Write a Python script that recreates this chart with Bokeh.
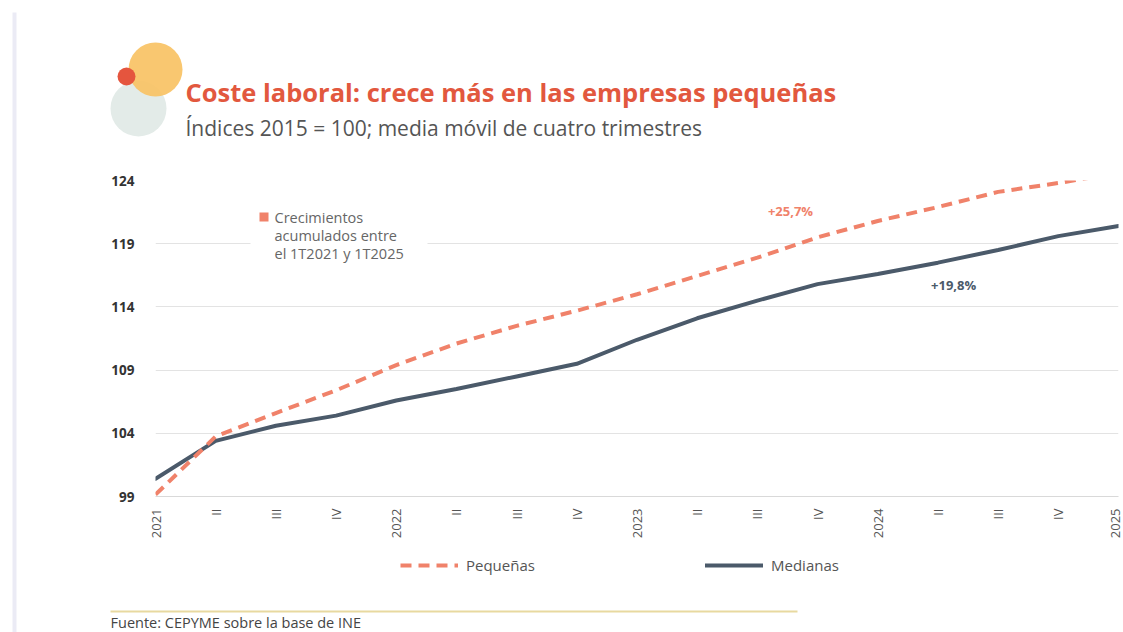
import math
from bokeh.plotting import figure
from bokeh.layouts import column, row
from bokeh.models import (FixedTicker, Label, BoxAnnotation, Legend, LegendItem, Range1d)
from bokeh.embed import file_html
from bokeh.resources import INLINE

# ---- data ----
quarters = list(range(17))
tick_labels = ["2021", "II", "III", "IV", "2022", "II", "III", "IV",
               "2023", "II", "III", "IV", "2024", "II", "III", "IV", "2025"]
pequenas = [99.15, 103.75, 105.6, 107.4, 109.4, 111.1, 112.5, 113.7,
            115.0, 116.45, 117.9, 119.5, 120.8, 121.9, 123.1, 123.8, 124.6]
medianas = [100.4, 103.4, 104.6, 105.4, 106.6, 107.5, 108.5, 109.5,
            111.4, 113.1, 114.5, 115.8, 116.6, 117.5, 118.5, 119.6, 120.4]
y_ticks = [99, 104, 109, 114, 119, 124]
series_names = ["Pequeñas", "Medianas"]
growth_labels = ["+25,7%", "+19,8%"]

ORANGE = "#f0826a"
SLATE = "#4b5a6a"
FONT = "Open Sans"
STRIP_W = 20
W = 1123 - STRIP_W


def blank(width, height):
    f = figure(width=width, height=height, x_range=Range1d(0, width), y_range=Range1d(height, 0),
               x_axis_type=None, y_axis_type=None, output_backend="svg", toolbar_location=None,
               min_border=0, frame_align=False)
    f.outline_line_color = None
    f.background_fill_color = "white"
    f.border_fill_color = "white"
    return f


# ---- left page strip ----
strip = blank(STRIP_W, 632)
strip.add_layout(BoxAnnotation(left=12, right=16, top=12, bottom=632,
                               fill_color="#ebebf5", fill_alpha=1, line_alpha=0))

# ---- header ----
head = blank(W, 160)
head.circle(x=[118], y=[108], radius=28, fill_color="#e3ebe8", line_alpha=0)
head.circle(x=[135], y=[69], radius=27, fill_color="#f8c264", fill_alpha=0.92, line_alpha=0)
head.circle(x=[106], y=[76], radius=9, fill_color="#e5553e", line_alpha=0)
head.add_layout(Label(x=165, y=91, text="Coste laboral: crece más en las empresas pequeñas",
                      text_font=FONT, text_font_style="bold", text_font_size="25.5px",
                      text_color="#e2583e", text_baseline="middle"))
head.add_layout(Label(x=165, y=127, text="Índices 2015 = 100; media móvil de cuatro trimestres",
                      text_font=FONT, text_font_size="21px", text_color="#555555",
                      text_baseline="middle"))

# ---- main chart ----
p = figure(width=W, height=385, x_range=Range1d(0, 16), y_range=Range1d(99, 124),
           output_backend="svg", toolbar_location=None, frame_align=False,
           min_border_left=155 - STRIP_W, min_border_right=5, min_border_top=20, min_border_bottom=49)
p.outline_line_color = None
p.background_fill_color = "white"
p.border_fill_color = "white"

p.xgrid.grid_line_color = None
p.ygrid.ticker = FixedTicker(ticks=y_ticks)
p.ygrid.grid_line_color = "#e3e3e3"
p.ygrid.grid_line_width = 1

p.yaxis.ticker = FixedTicker(ticks=y_ticks)
p.yaxis.axis_line_color = None
p.yaxis.major_tick_line_color = None
p.yaxis.minor_tick_line_color = None
p.yaxis.major_label_text_font = FONT
p.yaxis.major_label_text_font_style = "bold"
p.yaxis.major_label_text_font_size = "13.5px"
p.yaxis.major_label_text_color = "#333333"
p.yaxis.major_label_standoff = 15

p.xaxis.ticker = FixedTicker(ticks=quarters)
p.xaxis.major_label_overrides = {q: lab for q, lab in zip(quarters, tick_labels)}
p.xaxis.major_label_orientation = math.pi / 2
p.xaxis.axis_line_color = "#d9d9d9"
p.xaxis.major_tick_line_color = None
p.xaxis.minor_tick_line_color = None
p.xaxis.major_label_text_font = FONT
p.xaxis.major_label_text_font_size = "13px"
p.xaxis.major_label_text_color = "#555555"
p.xaxis.major_label_standoff = 6

p.line(quarters, medianas, line_color=SLATE, line_width=4, line_cap="round")
p.line(quarters, pequenas, line_color=ORANGE, line_width=4, line_dash="11 7")

p.add_layout(Label(x=10.55, y=121.55, text=growth_labels[0], text_font=FONT,
                   text_font_style="bold", text_font_size="13px", text_color=ORANGE,
                   text_align="center", text_baseline="middle"))
p.add_layout(Label(x=13.26, y=115.77, text=growth_labels[1], text_font=FONT,
                   text_font_style="bold", text_font_size="13px", text_color=SLATE,
                   text_align="center", text_baseline="middle"))

# annotation box (screen units relative to frame: x from left, y up from bottom)
p.add_layout(BoxAnnotation(left=95, right=272, bottom=232, top=290, left_units="screen",
                           right_units="screen", bottom_units="screen", top_units="screen",
                           fill_color="white", fill_alpha=1, line_alpha=0, level="overlay"))
p.add_layout(BoxAnnotation(left=104, right=113, bottom=275, top=284, left_units="screen",
                           right_units="screen", bottom_units="screen", top_units="screen",
                           fill_color=ORANGE, fill_alpha=1, line_alpha=0, level="overlay"))
for i, line in enumerate(["Crecimientos", "acumulados entre", "el 1T2021 y 1T2025"]):
    p.add_layout(Label(x=119, y=279 - 18 * i, x_units="screen", y_units="screen", text=line,
                       text_font=FONT, text_font_size="14.5px", text_color="#666666",
                       text_baseline="middle", level="overlay"))

# ---- footer: legend, rule, source ----
foot = blank(W, 87)
# legend keys: same series, drawn off this panel's visible range so only the key shows
r_peq_key = foot.line(quarters, pequenas, line_color=ORANGE, line_width=4, line_dash="11 7")
r_med_key = foot.line(quarters, medianas, line_color=SLATE, line_width=4, line_cap="round")
for name, rend, lx in [(series_names[0], r_peq_key, 400 - STRIP_W), (series_names[1], r_med_key, 705 - STRIP_W)]:
    lg = Legend(items=[LegendItem(label=name, renderers=[rend])], location=(lx, 87 - 22 - 8),
                orientation="horizontal", padding=0, margin=0, border_line_alpha=0,
                background_fill_alpha=0, glyph_width=58, glyph_height=16, label_height=16,
                label_standoff=8, label_text_font=FONT, label_text_font_size="15px",
                label_text_color="#555555")
    foot.add_layout(lg)
foot.add_layout(BoxAnnotation(left=110 - STRIP_W, right=797 - STRIP_W, top=65, bottom=67,
                              fill_color="#e8d9a0", fill_alpha=1, line_alpha=0))
foot.add_layout(Label(x=110 - STRIP_W, y=77, text="Fuente: CEPYME sobre la base de INE",
                      text_font=FONT, text_font_size="14.5px", text_color="#444444",
                      text_baseline="middle"))

layout = row(strip, column(head, p, foot, spacing=0), spacing=0)
open("out.html", "w").write(file_html(layout, INLINE))
